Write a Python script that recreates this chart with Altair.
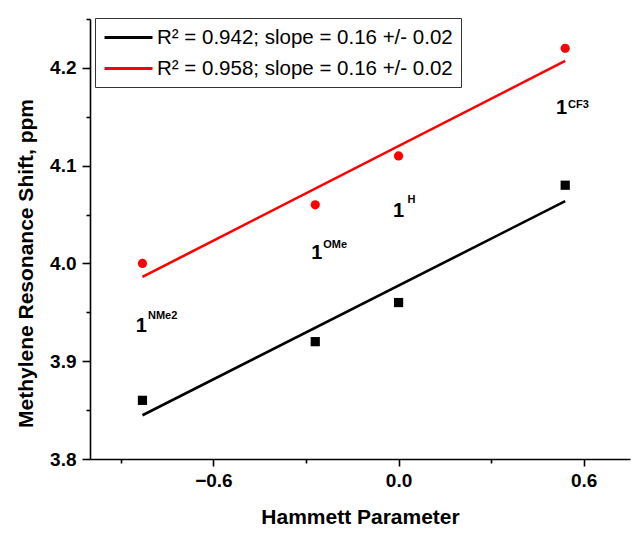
import altair as alt
import pandas as pd

# ---- data ----
sigma = [-0.83, -0.27, 0.0, 0.54]
shift_black = [3.86, 3.92, 3.96, 4.08]
shift_red = [4.00, 4.06, 4.11, 4.22]
series_names = [
    "R\u00b2 = 0.942; slope = 0.16 +/- 0.02",
    "R\u00b2 = 0.958; slope = 0.16 +/- 0.02",
]
series_colors = ["#000000", "#ff0000"]

# annotation labels (compound names) in data units
ann_base = ["1", "1", "1", "1"]
ann_sup = ["NMe2", "OMe", "H", "CF3"]
ann_x = [-0.834, -0.265, 0.0, 0.528]
ann_y = [3.930, 4.005, 4.048, 4.153]
sup_x = [-0.812, -0.244, 0.029, 0.549]
sup_y = [3.943, 4.016, 4.062, 4.159]

x_ticks = [-0.9, -0.6, -0.3, 0.0, 0.3, 0.6]
y_ticks = [3.8, 3.85, 3.9, 3.95, 4.0, 4.05, 4.1, 4.15, 4.2, 4.25]

pts = pd.DataFrame({
    "x": sigma * 2,
    "y": shift_black + shift_red,
    "series": [series_names[0]] * len(sigma) + [series_names[1]] * len(sigma),
})
black_pts = pd.DataFrame({"x": sigma, "y": shift_black})
red_pts = pd.DataFrame({"x": sigma, "y": shift_red})
ann = pd.DataFrame({"x": ann_x, "y": ann_y, "t": ann_base,
                    "sx": sup_x, "sy": sup_y, "st": ann_sup})

FONT = "Liberation Sans"

xscale = alt.Scale(domain=[-1.0, 0.75], nice=False, zero=False)
yscale = alt.Scale(domain=[3.8, 4.25], nice=False, zero=False)

xaxis = alt.Axis(
    values=x_ticks,
    labelExpr="round(datum.value*10) % 6 == 0 ? format(datum.value, '.1f') : ''",
    tickSize={"condition": {"test": "round(datum.value*10) % 6 == 0", "value": 7}, "value": 4},
    title="Hammett Parameter",
    grid=False, labelFlush=False, labelOverlap=False,
    labelPadding=5, titlePadding=16,
)
yaxis = alt.Axis(
    values=y_ticks,
    labelExpr="round(datum.value*100) % 10 == 0 ? format(datum.value, '.1f') : ''",
    tickSize={"condition": {"test": "round(datum.value*100) % 10 == 0", "value": 8}, "value": 4},
    title="Methylene Resonance Shift, ppm",
    grid=False, labelFlush=False, labelOverlap=False,
    labelPadding=6, titlePadding=13, titleY=244,
)

color_scale = alt.Scale(domain=series_names, range=series_colors)

lines = alt.Chart(pts).transform_regression(
    "x", "y", groupby=["series"]
).mark_line(strokeWidth=2.6).encode(
    x=alt.X("x:Q", scale=xscale, axis=xaxis),
    y=alt.Y("y:Q", scale=yscale, axis=yaxis),
    color=alt.Color("series:N", scale=color_scale, sort=series_names,
                    legend=alt.Legend(
                        orient="none", legendX=5, legendY=-1, title=None,
                        symbolType="M-2.4,0H2.4", symbolSize=400, symbolStrokeWidth=3,
                        symbolOffset=14,
                        labelFont=FONT, labelFontSize=20.5, labelColor="black",
                        labelLimit=0, labelOffset=17,
                        strokeColor="#333333", fillColor="white",
                        padding=8, rowPadding=9,
                    )),
)

squares = alt.Chart(black_pts).mark_square(size=85, color="#000000", opacity=1).encode(
    x=alt.X("x:Q", scale=xscale),
    y=alt.Y("y:Q", scale=yscale),
)
circles = alt.Chart(red_pts).mark_circle(size=85, color="#ff0000", opacity=1).encode(
    x=alt.X("x:Q", scale=xscale),
    y=alt.Y("y:Q", scale=yscale),
)

base_txt = alt.Chart(ann).mark_text(
    font=FONT, fontWeight="bold", fontSize=20, align="center", baseline="alphabetic", color="black"
).encode(x=alt.X("x:Q", scale=xscale), y=alt.Y("y:Q", scale=yscale), text="t:N")

sup_txt = alt.Chart(ann).mark_text(
    font=FONT, fontWeight="bold", fontSize=11, align="left", baseline="alphabetic", color="black"
).encode(x=alt.X("sx:Q", scale=xscale), y=alt.Y("sy:Q", scale=yscale), text="st:N")

chart = alt.layer(lines, squares, circles, base_txt, sup_txt).properties(
    width=540, height=440,
    autosize=alt.AutoSizeParams(type="none"),
    padding={"left": 90, "top": 19, "right": 5, "bottom": 74},
    background="white",
).configure_view(stroke=None).configure_axis(
    domainColor="black", domainWidth=1.6, tickColor="black", tickWidth=1.6,
    labelFont=FONT, labelFontWeight="bold", labelFontSize=19, labelColor="black",
    titleFont=FONT, titleFontWeight="bold", titleFontSize=21, titleColor="black",
)

chart.save("out.html", embed_options={"renderer": "svg", "actions": False})
